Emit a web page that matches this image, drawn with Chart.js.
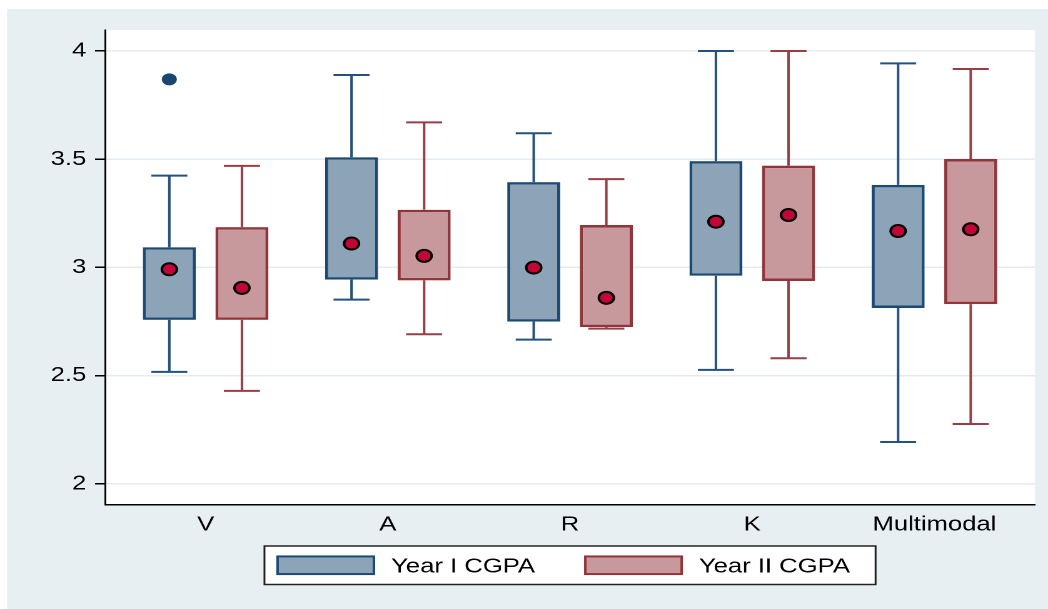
<!DOCTYPE html>
<html>
<head>
<meta charset="utf-8">
<script src="https://cdn.jsdelivr.net/npm/chart.js@4"></script>
<style>
  html, body { margin: 0; padding: 0; background: #fff; overflow: hidden; }
  /* the plot is drawn on a narrower canvas and widened to the full 1048px frame */
  #wrap { position: absolute; left: 0; top: 0; width: 838px; height: 609px;
          transform: scaleX(1.2506); transform-origin: 0 0; }
</style>
</head>
<body>
<div id="wrap"><canvas id="c"></canvas></div>
<script>
// Learning-style groups on the x axis
const categories = ['V', 'A', 'R', 'K', 'Multimodal'];
const yTicks = [2, 2.5, 3, 3.5, 4];

// Year I CGPA box-plot summaries
const year1Q1     = [2.757, 2.943, 2.749, 2.961, 2.812];
const year1Q3     = [3.093, 3.509, 3.394, 3.491, 3.381];
const year1Low    = [2.517, 2.851, 2.666, 2.526, 2.193];
const year1High   = [3.424, 3.889, 3.620, 4.000, 3.943];
const year1Median = [2.991, 3.110, 2.999, 3.211, 3.168];
const year1Outliers = [[3.869], [], [], [], []];

// Year II CGPA box-plot summaries
const year2Q1     = [2.757, 2.940, 2.724, 2.937, 2.830];
const year2Q3     = [3.186, 3.266, 3.196, 3.470, 3.501];
const year2Low    = [2.429, 2.691, 2.717, 2.580, 2.276];
const year2High   = [3.469, 3.670, 3.408, 4.000, 3.917];
const year2Median = [2.905, 3.053, 2.859, 3.242, 3.176];
const year2Outliers = [[], [], [], [], []];

const FONT = '"Liberation Sans", Arial, Helvetica, sans-serif';
Chart.defaults.font.family = FONT;
Chart.defaults.color = '#000';

function boxData(q1, q3) {
  return categories.map((c, i) => ({ x: i, y: [q1[i], q3[i]] }));
}

// Background panels: outer bluish-gray region and white plot region
const panelPlugin = {
  id: 'panels',
  beforeDraw(chart, args, opts) {
    const { ctx, width, height, chartArea: a } = chart;
    ctx.save();
    ctx.fillStyle = '#ffffff';
    ctx.fillRect(0, 0, width, height);
    ctx.fillStyle = opts.outerColor;
    ctx.fillRect(opts.outerLeft, opts.outerTop, width - opts.outerLeft, height - opts.outerTop);
    ctx.fillStyle = '#ffffff';
    ctx.fillRect(a.left, a.top, a.right - a.left, a.bottom - a.top);
    ctx.restore();
  }
};

// Whiskers, median markers and outside values, positioned from the bar elements and y scale
const boxPlotPlugin = {
  id: 'boxplot',
  beforeDatasetsDraw(chart, args, opts) {
    const { ctx } = chart;
    const yScale = chart.scales.y;
    ctx.save();
    chart.data.datasets.forEach((ds, d) => {
      const meta = chart.getDatasetMeta(d);
      ctx.strokeStyle = ds.whiskerColor;
      ctx.lineWidth = opts.whiskerWidth;
      meta.data.forEach((bar, i) => {
        const x = bar.x;
        const half = bar.width * opts.capRatio / 2;
        const yHi = yScale.getPixelForValue(ds.whiskerHigh[i]);
        const yQ3 = yScale.getPixelForValue(ds.data[i].y[1]);
        const yQ1 = yScale.getPixelForValue(ds.data[i].y[0]);
        const yLo = yScale.getPixelForValue(ds.whiskerLow[i]);
        ctx.beginPath();
        ctx.moveTo(x, yHi); ctx.lineTo(x, yQ3);
        ctx.moveTo(x, yQ1); ctx.lineTo(x, yLo);
        ctx.moveTo(x - half, yHi); ctx.lineTo(x + half, yHi);
        ctx.moveTo(x - half, yLo); ctx.lineTo(x + half, yLo);
        ctx.stroke();
      });
    });
    ctx.restore();
  },
  afterDatasetsDraw(chart, args, opts) {
    const { ctx } = chart;
    const yScale = chart.scales.y;
    ctx.save();
    chart.data.datasets.forEach((ds, d) => {
      const meta = chart.getDatasetMeta(d);
      meta.data.forEach((bar, i) => {
        const x = bar.x;
        // outside values
        (ds.outliers[i] || []).forEach(v => {
          ctx.beginPath();
          ctx.fillStyle = ds.outlierColor;
          ctx.arc(x, yScale.getPixelForValue(v), opts.outlierRadius, 0, Math.PI * 2);
          ctx.fill();
        });
        // median marker
        ctx.beginPath();
        ctx.arc(x, yScale.getPixelForValue(ds.medians[i]), opts.medianRadius, 0, Math.PI * 2);
        ctx.fillStyle = opts.medianColor;
        ctx.fill();
        ctx.lineWidth = opts.medianBorderWidth;
        ctx.strokeStyle = '#000';
        ctx.stroke();
      });
    });
    ctx.restore();
  }
};

// Framed legend centred under the plot region
const framedLegendPlugin = {
  id: 'framedLegend',
  afterDraw(chart, args, opts) {
    const { ctx, chartArea: a } = chart;
    const dsets = chart.data.datasets;
    ctx.save();
    ctx.font = opts.fontSize + 'px ' + FONT;
    const widths = dsets.map(ds => ctx.measureText(ds.label).width);
    let total = opts.padLeft + opts.padRight;
    widths.forEach((w, k) => {
      total += opts.boxWidth + opts.textGap + w;
      if (k < widths.length - 1) total += opts.itemGap;
    });
    const cx = (a.left + a.right) / 2;
    const left = cx - total / 2;
    const top = opts.top, bottom = opts.bottom;
    const mid = (top + bottom) / 2;
    ctx.fillStyle = '#fff';
    ctx.fillRect(left, top, total, bottom - top);
    ctx.strokeStyle = '#222';
    ctx.lineWidth = 1.5;
    ctx.strokeRect(left, top, total, bottom - top);
    let x = left + opts.padLeft;
    dsets.forEach((ds, k) => {
      const by = mid - opts.boxHeight / 2;
      ctx.fillStyle = ds.backgroundColor;
      ctx.fillRect(x, by, opts.boxWidth, opts.boxHeight);
      ctx.strokeStyle = ds.borderColor;
      ctx.lineWidth = 2;
      ctx.strokeRect(x + 1, by + 1, opts.boxWidth - 2, opts.boxHeight - 2);
      x += opts.boxWidth + opts.textGap;
      ctx.fillStyle = '#000';
      ctx.textBaseline = 'middle';
      ctx.textAlign = 'left';
      ctx.fillText(ds.label, x, mid + 1.5);
      x += widths[k] + opts.itemGap;
    });
    ctx.restore();
  }
};

new Chart(document.getElementById('c'), {
  type: 'bar',
  data: {
    datasets: [
      {
        label: 'Year I CGPA',
        data: boxData(year1Q1, year1Q3),
        backgroundColor: '#8ca3b8',
        borderColor: '#1c4a73',
        whiskerColor: '#24527c',
        outlierColor: '#1a476f',
        borderWidth: 2.5,
        borderSkipped: false,
        whiskerLow: year1Low,
        whiskerHigh: year1High,
        medians: year1Median,
        outliers: year1Outliers
      },
      {
        label: 'Year II CGPA',
        data: boxData(year2Q1, year2Q3),
        backgroundColor: '#c8999c',
        borderColor: '#90353b',
        whiskerColor: '#983f46',
        outlierColor: '#90353b',
        borderWidth: 2.5,
        borderSkipped: false,
        whiskerLow: year2Low,
        whiskerHigh: year2High,
        medians: year2Median,
        outliers: year2Outliers
      }
    ]
  },
  options: {
    responsive: true,
    maintainAspectRatio: false,
    devicePixelRatio: 2,
    animation: false,
    events: [],
    categoryPercentage: 0.797,
    barPercentage: 0.73,
    layout: { padding: { left: 0, top: 30, right: 10.4, bottom: 0 } },
    scales: {
      x: {
        type: 'linear',
        min: -0.552,
        max: 4.552,
        offset: false,
        afterBuildTicks: s => { s.ticks = categories.map((c, i) => ({ value: i })); },
        afterFit: s => { s.height = 104.5; },
        grid: { display: false, drawTicks: false, offset: false },
        border: { display: true, color: '#000', width: 1.5 },
        ticks: {
          autoSkip: false,
          maxRotation: 0,
          padding: 8,
          color: '#000',
          font: { size: 20.5 },
          callback: v => categories[v] ?? ''
        }
      },
      y: {
        type: 'linear',
        min: 1.9039,
        max: 4.097,
        beginAtZero: false,
        afterBuildTicks: s => { s.ticks = yTicks.map(v => ({ value: v })); },
        afterFit: s => { s.width = 84; },
        grid: {
          color: '#e4ecef',
          lineWidth: 1.5,
          drawTicks: true,
          tickLength: 8,
          tickColor: '#000',
          tickWidth: 1.5
        },
        border: { display: true, color: '#000', width: 1.5 },
        ticks: {
          padding: 7,
          color: '#000',
          font: { size: 20.5 },
          callback: v => String(v)
        }
      }
    },
    plugins: {
      legend: { display: false },
      tooltip: { enabled: false },
      panels: { outerColor: '#e8eff2', outerLeft: 5.6, outerTop: 9 },
      boxplot: {
        capRatio: 0.68,
        whiskerWidth: 2,
        medianRadius: 6,
        medianBorderWidth: 2,
        medianColor: '#c40538',
        outlierRadius: 6
      },
      framedLegend: {
        fontSize: 20.5,
        top: 546,
        bottom: 584.5,
        boxWidth: 79,
        boxHeight: 19.6,
        textGap: 12.8,
        itemGap: 39.2,
        padLeft: 9.5,
        padRight: 20.5
      }
    }
  },
  plugins: [panelPlugin, boxPlotPlugin, framedLegendPlugin]
});
</script>
</body>
</html>
